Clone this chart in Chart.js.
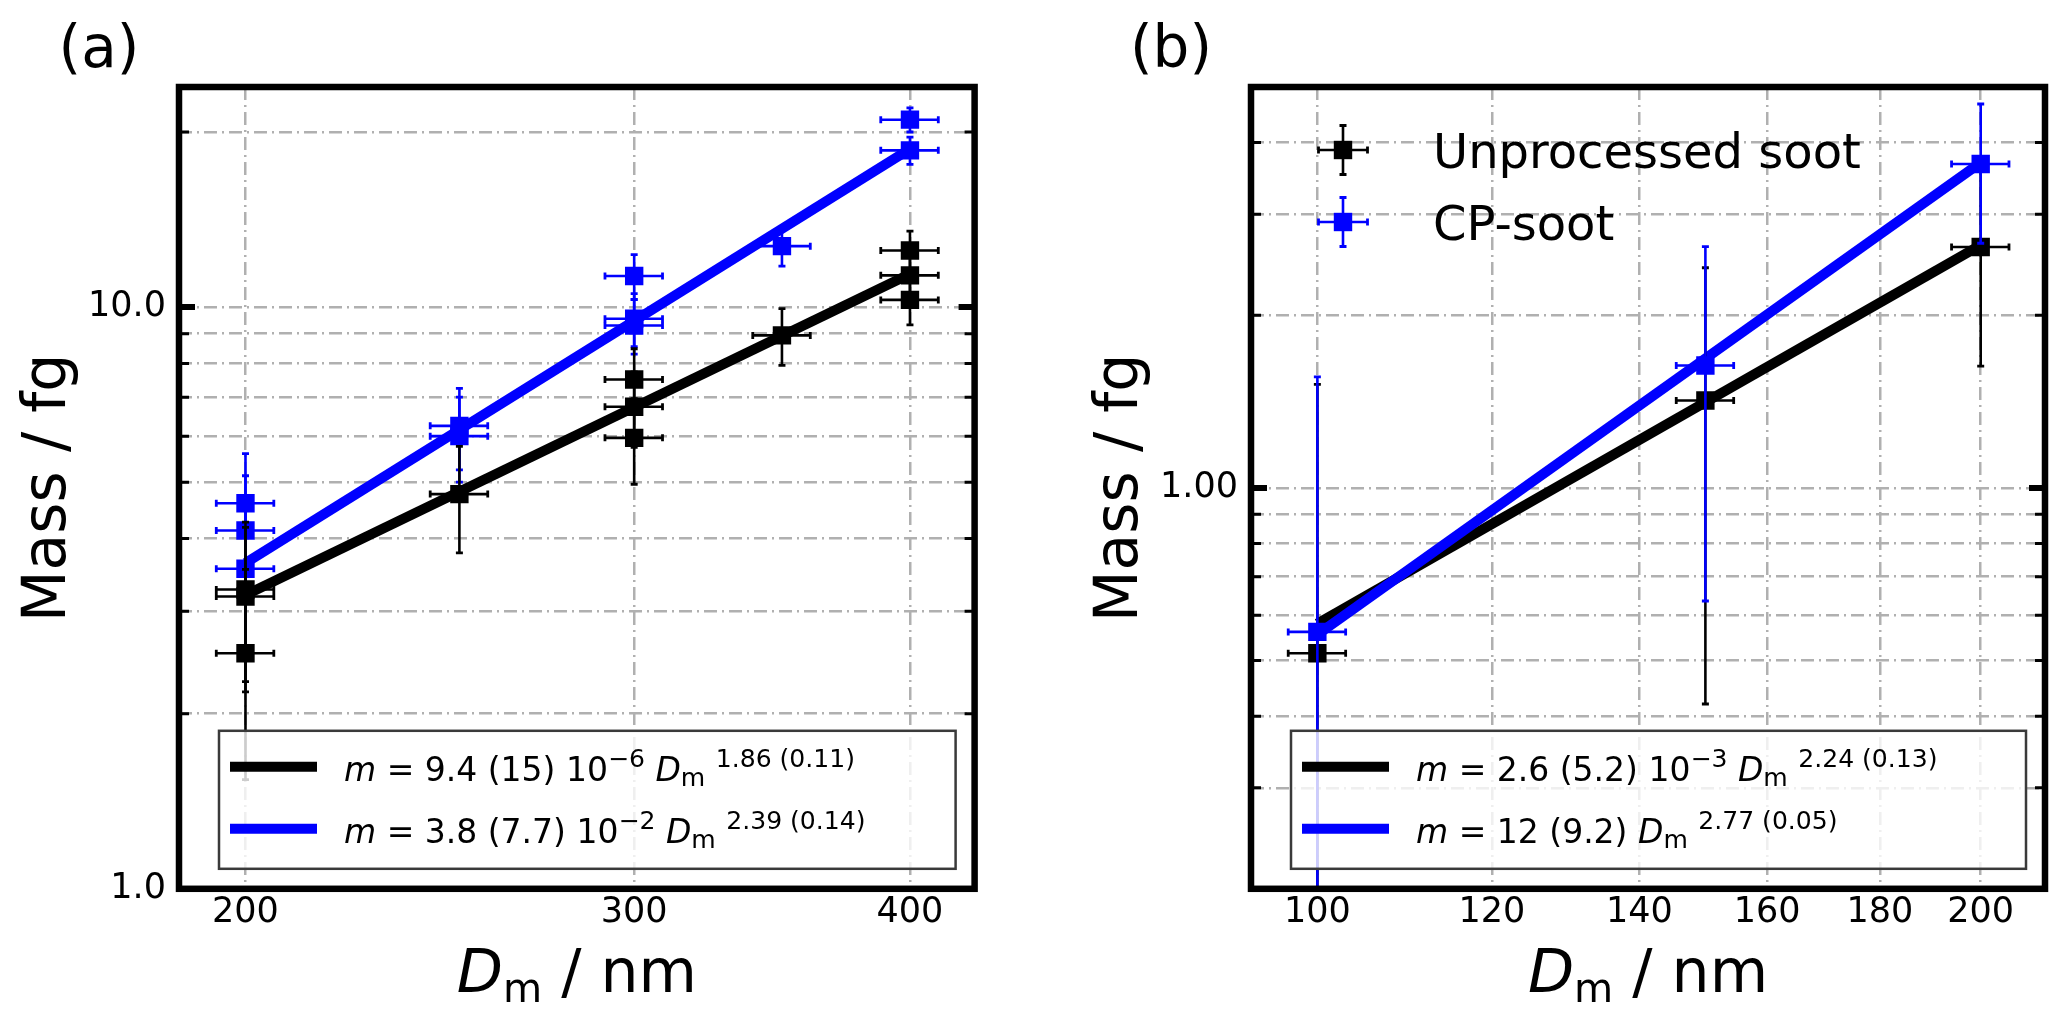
<!DOCTYPE html>
<html>
<head>
<meta charset="utf-8">
<title>Mass vs mobility diameter</title>
<script src="https://cdn.jsdelivr.net/npm/chart.js@4.4.1/dist/chart.umd.min.js"></script>
<style>
  html, body { margin: 0; padding: 0; background: #fff; overflow: hidden; }
  #wrap { position: relative; width: 2067px; height: 1019px; }
  canvas { position: absolute; top: 0; }
  #panelA { left: 0; }
  #panelB { left: 1034px; }
</style>
</head>
<body>
<div id="wrap">
  <canvas id="panelA" width="1034" height="1019"></canvas>
  <canvas id="panelB" width="1033" height="1019"></canvas>
</div>
<script>
// ---- panel (a) data ----
const aSootD    = [200, 200, 200, 250, 300, 300, 300, 350, 400, 400, 400];
const aSootM    = [3.27, 3.18, 2.54, 4.77, 7.51, 6.74, 5.96, 8.94, 12.51, 11.34, 10.29];
const aSootErrM = [1.0, 1.0, 1.0, 0.99, 0.97, 1.0, 1.0, 1.0, 1.0, 1.0, 0.97];
const aSootErrD = [6, 6, 6, 7.5, 9, 9, 9, 10.5, 12, 12, 12];
const aCpD      = [200, 200, 200, 250, 250, 300, 300, 300, 350, 400, 400];
const aCpM      = [4.60, 4.13, 3.55, 6.25, 6.0, 11.31, 9.55, 9.3, 12.73, 21.0, 18.6];
const aCpErrM   = [1.0, 1.0, 1.0, 1.0, 1.0, 1.0, 1.0, 1.0, 0.97, 1.0, 1.0];
const aCpErrD   = [6, 6, 6, 7.5, 7.5, 9, 9, 9, 10.5, 12, 12];
const aFitD     = [200, 400];
const aSootFit  = [3.2, 11.4];
const aCpFit    = [3.63, 18.7];
const aXTicks   = [200, 300, 400];
const aXLabels  = ['200', '300', '400'];
const aYTicks   = [1, 2, 3, 4, 5, 6, 7, 8, 9, 10, 20];
const aYLabels  = ['1.0', '', '', '', '', '', '', '', '', '10.0', ''];
const aSootText = [['m', 'i'], [' = 9.4 (15) 10', 'n'], ['\u22126', 'sup'], [' ', 'n'], ['D', 'i'], ['m', 'sub'], [' ', 'n'], ['1.86 (0.11)', 'sup']];
const aCpText   = [['m', 'i'], [' = 3.8 (7.7) 10', 'n'], ['\u22122', 'sup'], [' ', 'n'], ['D', 'i'], ['m', 'sub'], [' ', 'n'], ['2.39 (0.14)', 'sup']];

// ---- panel (b) data ----
const bD        = [100, 150, 200];
const bSootM    = [0.515, 1.42, 2.63];
const bSootErrM = [1.0, 1.0, 1.0];
const bSootErrD = [3, 4.5, 6];
const bCpM      = [0.561, 1.635, 3.67];
const bCpErrM   = [1.0, 1.0, 1.0];
const bCpErrD   = [3, 4.5, 6];
const bFitD     = [100, 200];
const bSootFit  = [0.58, 2.65];
const bCpFit    = [0.555, 3.69];
const bXTicks   = [100, 120, 140, 160, 180, 200];
const bXLabels  = ['100', '120', '140', '160', '180', '200'];
const bYTicks   = [0.3, 0.4, 0.5, 0.6, 0.7, 0.8, 0.9, 1, 2, 3, 4];
const bYLabels  = ['', '', '', '', '', '', '', '1.00', '', '', ''];
const bSootText = [['m', 'i'], [' = 2.6 (5.2) 10', 'n'], ['\u22123', 'sup'], [' ', 'n'], ['D', 'i'], ['m', 'sub'], [' ', 'n'], ['2.24 (0.13)', 'sup']];
const bCpText   = [['m', 'i'], [' = 12 (9.2) ', 'n'], ['D', 'i'], ['m', 'sub'], [' ', 'n'], ['2.77 (0.05)', 'sup']];
const bSeriesNames = ['Unprocessed soot', 'CP-soot'];

const FONT = '"DejaVu Sans", "Liberation Sans", sans-serif';
const BLACK = '#000000';
const BLUE = '#0000ff';

function toPoints(xs, ys) {
    return xs.map((x, i) => ({ x: x, y: ys[i] }));
}

// draws a run of text pieces: normal, italic, superscript, subscript
function richText(ctx, x, y, parts, size, sc, rise, drop, measureOnly) {
    let cx = x;
    parts.forEach(([t, st]) => {
        let fs = size, dy = 0, style = '';
        if (st === 'i') style = 'italic ';
        if (st === 'sup') { fs = size * sc; dy = -size * rise; }
        if (st === 'sub') { fs = size * sc; dy = size * drop; }
        ctx.font = style + fs + 'px ' + FONT;
        if (!measureOnly) ctx.fillText(t, cx, y + dy);
        cx += ctx.measureText(t).width;
    });
    return cx - x;
}

function drawCross(ctx, x, y, x0, x1, yTop, yBot, color) {
    ctx.strokeStyle = color;
    ctx.lineWidth = 2.6;
    ctx.beginPath();
    ctx.moveTo(x0, y); ctx.lineTo(x1, y);
    ctx.moveTo(x, yTop); ctx.lineTo(x, yBot);
    ctx.stroke();
    ctx.lineWidth = 2.8;
    ctx.beginPath();
    ctx.moveTo(x0, y - 3.5); ctx.lineTo(x0, y + 3.5);
    ctx.moveTo(x1, y - 3.5); ctx.lineTo(x1, y + 3.5);
    ctx.moveTo(x - 3.5, yTop); ctx.lineTo(x + 3.5, yTop);
    ctx.moveTo(x - 3.5, yBot); ctx.lineTo(x + 3.5, yBot);
    ctx.stroke();
}

// error bars are drawn right before each marker dataset
const errorBars = {
    id: 'errorBars',
    beforeDatasetDraw(chart, args) {
        const ds = chart.data.datasets[args.index];
        if (!ds.errM) return;
        const xs = chart.scales.x, ys = chart.scales.y, a = chart.chartArea, ctx = chart.ctx;
        ctx.save();
        ctx.beginPath();
        ctx.rect(a.left, a.top, a.right - a.left, a.bottom - a.top);
        ctx.clip();
        ds.data.forEach((p, i) => {
            const x = xs.getPixelForValue(p.x);
            const y = ys.getPixelForValue(p.y);
            const lo = p.y - ds.errM[i];
            const yBot = lo > ys.min ? ys.getPixelForValue(lo) : a.bottom + 20;
            const yTop = ys.getPixelForValue(p.y + ds.errM[i]);
            const x0 = xs.getPixelForValue(p.x - ds.errD[i]);
            const x1 = xs.getPixelForValue(p.x + ds.errD[i]);
            drawCross(ctx, x, y, x0, x1, yTop, yBot, ds.backgroundColor);
        });
        ctx.restore();
    }
};

// frame, inward ticks, titles and legends
const deco = {
    id: 'deco',
    afterDraw(chart, args, o) {
        const ctx = chart.ctx, a = chart.chartArea, ys = chart.scales.y;
        const w = a.right - a.left, h = a.bottom - a.top;
        ctx.save();

        // fit legend box
        const bl = a.left + 40, br = a.right - 19, bt = a.bottom - 158, bb = a.bottom - 20;
        ctx.fillStyle = 'rgba(255,255,255,0.8)';
        ctx.fillRect(bl, bt, br - bl, bb - bt);
        ctx.strokeStyle = '#3a3a3a';
        ctx.lineWidth = 2.5;
        ctx.strokeRect(bl, bt, br - bl, bb - bt);
        o.fitRows.forEach((row, i) => {
            const ly = a.bottom - 122 + i * 62;
            ctx.strokeStyle = row.color;
            ctx.lineWidth = 10;
            ctx.beginPath();
            ctx.moveTo(bl + 11, ly); ctx.lineTo(bl + 98, ly);
            ctx.stroke();
            ctx.fillStyle = '#000';
            ctx.textBaseline = 'alphabetic';
            ctx.textAlign = 'left';
            richText(ctx, bl + 125, ly + 14, row.text, 33, 0.76, 0.42, 0.15);
        });

        // series legend (panel b only)
        if (o.seriesRows) {
            o.seriesRows.forEach((row, i) => {
                const mx = a.left + 92, my = a.top + 63 + i * 72;
                drawCross(ctx, mx, my, mx - 24.5, mx + 24.5, my - 24.5, my + 24.5, row.color);
                ctx.fillStyle = row.color;
                ctx.fillRect(mx - 9.2, my - 9.2, 18.4, 18.4);
                ctx.fillStyle = '#000';
                ctx.font = '48px ' + FONT;
                ctx.textAlign = 'left';
                ctx.textBaseline = 'alphabetic';
                ctx.fillText(row.name, a.left + 182, my + 17.5);
            });
        }

        // spines
        ctx.strokeStyle = '#000';
        ctx.lineWidth = 6.5;
        ctx.strokeRect(a.left, a.top, w, h);

        // inward y ticks on both sides
        o.yTicks.forEach((v, i) => {
            if (v <= ys.min || v >= ys.max) return;
            const y = ys.getPixelForValue(v);
            const major = o.yLabels[i] !== '';
            const len = major ? 16 : 10;
            ctx.lineWidth = major ? 6 : 3;
            ctx.beginPath();
            ctx.moveTo(a.left, y); ctx.lineTo(a.left + len, y);
            ctx.moveTo(a.right, y); ctx.lineTo(a.right - len, y);
            ctx.stroke();
        });

        // panel letter
        ctx.fillStyle = '#000';
        ctx.font = '58px ' + FONT;
        ctx.textAlign = 'center';
        ctx.textBaseline = 'alphabetic';
        ctx.fillText(o.letter, a.left - 80, a.top - 20);

        // x title: D_m / nm
        const xt = [['D', 'i'], ['m', 'sub'], [' / nm', 'n']];
        ctx.textAlign = 'left';
        const tw = richText(ctx, 0, 0, xt, 60, 0.67, 0, 0.17, true);
        richText(ctx, a.left + w / 2 - tw / 2, a.bottom + 103, xt, 60, 0.67, 0, 0.17);

        // y title
        ctx.translate(a.left - 114, a.top + h / 2);
        ctx.rotate(-Math.PI / 2);
        ctx.font = '60px ' + FONT;
        ctx.textAlign = 'center';
        ctx.fillText('Mass / fg', 0, 0);
        ctx.restore();
    }
};

function makeConfig(p) {
    const markerSets = p.series.map(s => ({
        data: toPoints(s.d, s.m),
        errM: s.errM,
        errD: s.errD,
        backgroundColor: s.color,
        borderWidth: 0,
        pointStyle: 'rect',
        pointRadius: 13,
        pointBorderWidth: 0,
        pointHoverRadius: 13,
        showLine: false,
        order: s.order
    }));
    const lineSets = p.fits.map(f => ({
        data: toPoints(p.fitD, f.m),
        borderColor: f.color,
        backgroundColor: f.color,
        borderWidth: 10,
        borderCapStyle: 'butt',
        pointRadius: 0,
        showLine: true,
        order: f.order
    }));
    const gridOpts = { color: '#b0b0b0', lineWidth: 2.5, drawTicks: false };
    const borderOpts = { display: false, dash: [13, 5, 2, 5] };
    return {
        type: 'scatter',
        data: { datasets: markerSets.concat(lineSets) },
        options: {
            responsive: false,
            animation: false,
            devicePixelRatio: 1,
            layout: { padding: { left: 0, top: 87, right: p.padRight, bottom: 0 } },
            plugins: {
                legend: { display: false },
                tooltip: { enabled: false },
                deco: { letter: p.letter, yTicks: p.yTicks, yLabels: p.yLabels, fitRows: p.fitRows, seriesRows: p.seriesRows }
            },
            scales: {
                x: {
                    type: 'logarithmic',
                    min: p.xMin, max: p.xMax, bounds: 'data',
                    grid: gridOpts, border: borderOpts,
                    afterBuildTicks: ax => { ax.ticks = p.xTicks.map(v => ({ value: v })); },
                    afterFit: ax => { ax.height = 130.2; },
                    ticks: {
                        autoSkip: false, maxRotation: 0, padding: 3, color: '#000',
                        font: { family: FONT, size: 35 },
                        callback: (v, i) => p.xLabels[i]
                    }
                },
                y: {
                    type: 'logarithmic',
                    min: p.yMin, max: p.yMax, bounds: 'data',
                    grid: gridOpts, border: borderOpts,
                    afterBuildTicks: ax => { ax.ticks = p.yTicks.map(v => ({ value: v })); },
                    afterFit: ax => { ax.width = p.yWidth; },
                    ticks: {
                        autoSkip: false, padding: 13, color: '#000',
                        font: { family: FONT, size: 35 },
                        callback: (v, i) => p.yLabels[i]
                    }
                }
            }
        },
        plugins: [errorBars, deco]
    };
}

new Chart(document.getElementById('panelA'), makeConfig({
    letter: '(a)',
    xMin: 186.6, xMax: 427.9, yMin: 1.0, yMax: 23.9,
    xTicks: aXTicks, xLabels: aXLabels, yTicks: aYTicks, yLabels: aYLabels,
    yWidth: 179, padRight: 59.4,
    series: [
        { d: aSootD, m: aSootM, errM: aSootErrM, errD: aSootErrD, color: BLACK, order: 0 },
        { d: aCpD, m: aCpM, errM: aCpErrM, errD: aCpErrD, color: BLUE, order: 1 }
    ],
    fitD: aFitD,
    fits: [
        { m: aCpFit, color: BLUE, order: 2 },
        { m: aSootFit, color: BLACK, order: 3 }
    ],
    fitRows: [{ color: BLACK, text: aSootText }, { color: BLUE, text: aCpText }],
    seriesRows: null
}));

new Chart(document.getElementById('panelB'), makeConfig({
    letter: '(b)',
    xMin: 93.3, xMax: 213.9, yMin: 0.2, yMax: 5.0,
    xTicks: bXTicks, xLabels: bXLabels, yTicks: bYTicks, yLabels: bYLabels,
    yWidth: 217, padRight: 22,
    series: [
        { d: bD, m: bCpM, errM: bCpErrM, errD: bCpErrD, color: BLUE, order: 0 },
        { d: bD, m: bSootM, errM: bSootErrM, errD: bSootErrD, color: BLACK, order: 1 }
    ],
    fitD: bFitD,
    fits: [
        { m: bCpFit, color: BLUE, order: 2 },
        { m: bSootFit, color: BLACK, order: 3 }
    ],
    fitRows: [{ color: BLACK, text: bSootText }, { color: BLUE, text: bCpText }],
    seriesRows: [{ color: BLACK, name: bSeriesNames[0] }, { color: BLUE, name: bSeriesNames[1] }]
}));
</script>
</body>
</html>
